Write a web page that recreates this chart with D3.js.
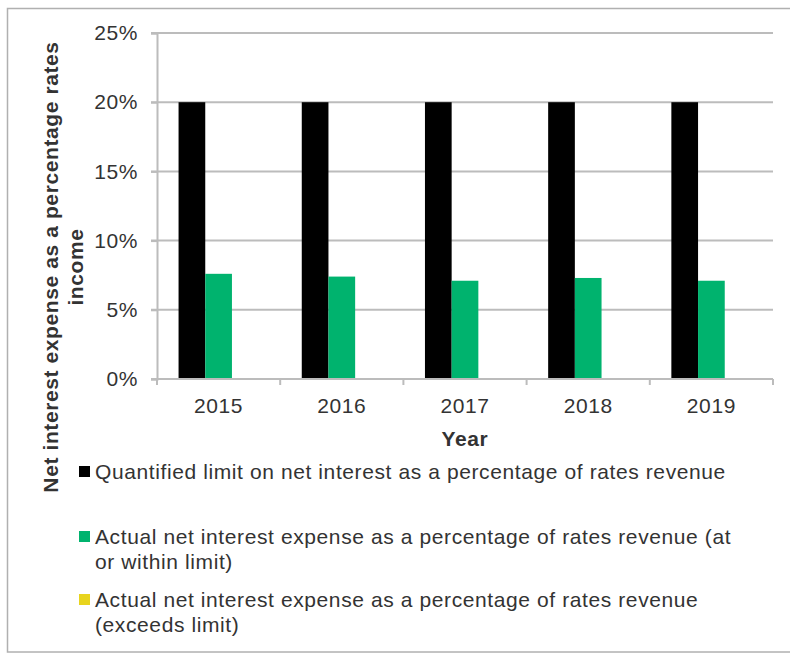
<!DOCTYPE html>
<html>
<head>
<meta charset="utf-8">
<script src="https://cdn.jsdelivr.net/npm/d3@7"></script>
<style>
  html, body { margin: 0; padding: 0; background: #fff; }
  svg { display: block; }
  text { font-family: "Liberation Sans", Arial, sans-serif; fill: #333333; letter-spacing: 0.6px; }
</style>
</head>
<body>
<svg id="chart" width="790" height="655"></svg>
<script>
// Categories and series values (percent of rates revenue)
const years = ["2015", "2016", "2017", "2018", "2019"];
const limitValues = [20, 20, 20, 20, 20];
const withinValues = [7.6, 7.4, 7.1, 7.3, 7.1];
const exceedsValues = [0, 0, 0, 0, 0];
const yTickValues = [0, 5, 10, 15, 20, 25];

const seriesKeys = ["limit", "within", "exceeds"];
const seriesColors = ["#000000", "#00b36e", "#e8d41e"];
const legendLines = [
  ["Quantified limit on net interest as a percentage of rates revenue"],
  ["Actual net interest expense as a percentage of rates revenue (at", "or within limit)"],
  ["Actual net interest expense as a percentage of rates revenue", "(exceeds limit)"]
];
const yTitleLines = ["Net interest expense as a percentage rates", "income"];
const xTitle = "Year";

// Rows for the grouped bars
const rows = years.map((y, i) => ({
  year: y,
  limit: limitValues[i],
  within: withinValues[i],
  exceeds: exceedsValues[i]
}));

const svg = d3.select("#chart");
const plot = { left: 157, right: 773, top: 33, bottom: 379 };
const gridColor = "#bcbcbc";

// Outer frame
svg.append("rect")
  .attr("x", 7.5).attr("y", 8.5)
  .attr("width", 800).attr("height", 643.5)
  .attr("fill", "none").attr("stroke", "#b0b0b0").attr("stroke-width", 1.5);

const x0 = d3.scaleBand().domain(years).range([plot.left, plot.right])
  .paddingInner(0.35).paddingOuter(0.175);
const x1 = d3.scaleBand().domain(seriesKeys).range([0, x0.bandwidth()]);
const y = d3.scaleLinear().domain([0, 25]).range([plot.bottom, plot.top]);

// Horizontal gridlines
svg.append("g").selectAll("line")
  .data(yTickValues.filter(v => v > 0))
  .join("line")
  .attr("x1", plot.left - 6).attr("x2", plot.right)
  .attr("y1", d => y(d)).attr("y2", d => y(d))
  .attr("stroke", gridColor).attr("stroke-width", 2);

// Y axis
const yAxis = svg.append("g")
  .attr("transform", `translate(${plot.left},0)`)
  .call(d3.axisLeft(y).tickValues(yTickValues).tickSize(6).tickPadding(13)
    .tickFormat(d => d + "%"));
yAxis.select(".domain").attr("stroke", gridColor).attr("stroke-width", 2);
yAxis.selectAll(".tick line").attr("stroke", gridColor).attr("stroke-width", 2);
yAxis.selectAll(".tick text")
  .style("font-size", "21px").attr("fill", "#333333");

// Bars
svg.append("g").selectAll("g")
  .data(rows)
  .join("g")
  .attr("transform", d => `translate(${x0(d.year)},0)`)
  .selectAll("rect")
  .data(d => seriesKeys.map((k, i) => ({ key: k, value: d[k], color: seriesColors[i] })))
  .join("rect")
  .attr("x", d => x1(d.key))
  .attr("width", x1.bandwidth())
  .attr("y", d => y(d.value))
  .attr("height", d => y(0) - y(d.value))
  .attr("fill", d => d.color);

// X axis with ticks at category boundaries
const xAxis = svg.append("g").attr("transform", `translate(0,${plot.bottom})`);
xAxis.append("line")
  .attr("x1", plot.left - 6).attr("x2", plot.right)
  .attr("y1", 0).attr("y2", 0)
  .attr("stroke", gridColor).attr("stroke-width", 2);
const boundaries = years.map(yr => x0(yr) - x0.step() * x0.paddingOuter())
  .concat([plot.right]);
xAxis.selectAll("line.b")
  .data(boundaries)
  .join("line").attr("class", "b")
  .attr("x1", d => d).attr("x2", d => d)
  .attr("y1", 0).attr("y2", 6)
  .attr("stroke", gridColor).attr("stroke-width", 2);
xAxis.selectAll("text")
  .data(years)
  .join("text")
  .attr("x", d => x0(d) + x0.bandwidth() / 2)
  .attr("y", 34)
  .attr("text-anchor", "middle")
  .style("font-size", "21px")
  .text(d => d);

// Axis titles
svg.append("text")
  .attr("x", (plot.left + plot.right) / 2)
  .attr("y", 446)
  .attr("text-anchor", "middle")
  .style("font-size", "21px").style("font-weight", "bold")
  .text(xTitle);

const yTitle = svg.append("text")
  .attr("transform", "translate(50,267) rotate(-90)")
  .attr("text-anchor", "middle")
  .style("font-size", "21px").style("font-weight", "bold");
yTitle.selectAll("tspan")
  .data(yTitleLines)
  .join("tspan")
  .attr("x", 0)
  .attr("y", (d, i) => 8 + i * 25)
  .text(d => d);

// Legend
const legendBaselines = [479, 544, 607];
const legend = svg.append("g");
legendLines.forEach((lines, i) => {
  const g = legend.append("g").attr("transform", `translate(0,${legendBaselines[i]})`);
  g.append("rect")
    .attr("x", 79).attr("y", -13)
    .attr("width", 11).attr("height", 11)
    .attr("fill", seriesColors[i]);
  g.append("text")
    .style("font-size", "21px")
    .selectAll("tspan")
    .data(lines)
    .join("tspan")
    .attr("x", 95)
    .attr("y", (d, j) => j * 25)
    .text(d => d);
});
</script>
</body>
</html>
